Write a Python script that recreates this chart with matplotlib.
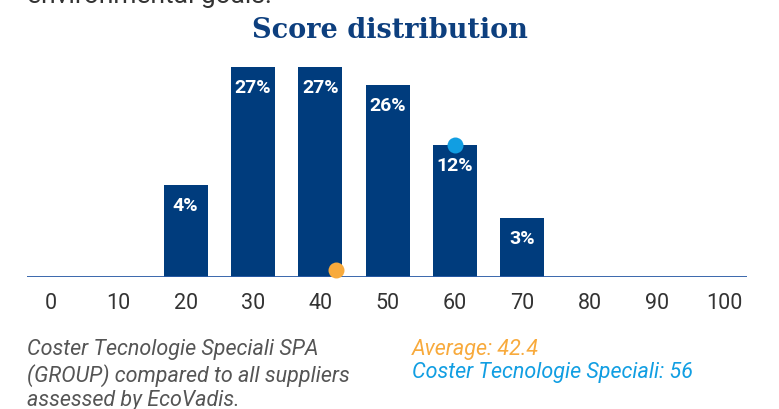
import matplotlib
matplotlib.use("Agg")
import matplotlib.pyplot as plt
from matplotlib import transforms

# ---- data ----
bins = [20, 30, 40, 50, 60, 70]
bar_heights = [11.8, 27.0, 27.0, 24.7, 17.0, 7.6]   # visual heights
bar_labels = ["4%", "27%", "27%", "26%", "12%", "3%"]
tick_values = [0, 10, 20, 30, 40, 50, 60, 70, 80, 90, 100]
tick_labels = [str(v) for v in tick_values]
average_score = 42.4
company_score = 56
company_name = "Coster Tecnologie Speciali"

title = "Score distribution"
caption = "Coster Tecnologie Speciali SPA\n(GROUP) compared to all suppliers\nassessed by EcoVadis."
top_text = "environmental goals."

NAVY = "#003c7d"
TITLE_C = "#0d3f7e"
ORANGE = "#f8aa3c"
BLUE = "#119ee2"
GRAY = "#333333"
CAP_GRAY = "#555555"
FONT = ["Roboto", "DejaVu Sans"]

W, H = 779, 410
fig = plt.figure(figsize=(W / 100, H / 100), dpi=100)

ax = fig.add_axes([27 / W, 132 / H, 720 / W, 218 / H])
ax.set_xlim(-3.57, 103.4)
ax.set_ylim(0, 28.02)

ax.bar(bins, bar_heights, width=6.55, color=NAVY, zorder=2)
ax.axhline(0, color="#2b5ca6", lw=1.3, zorder=3)

for x, h, lab in zip(bins, bar_heights, bar_labels):
    ax.annotate(lab, (x, h), xytext=(0, -14.5), textcoords="offset points",
                ha="center", va="center", color="white", fontsize=14,
                fontweight="bold", family=FONT, zorder=4)

# average dot sitting on the baseline
off = transforms.offset_copy(ax.transData, fig=fig, x=0, y=7, units="dots")
ax.plot([average_score], [0], "o", color=ORANGE, ms=11.5, mew=0,
        transform=off, clip_on=False, zorder=5)

# company dot on top of its bin
cbin = int(round(company_score / 10.0) * 10)
ch = bar_heights[bins.index(cbin)]
ax.plot([cbin], [ch], "o", color=BLUE, ms=11.5, mew=0, clip_on=False, zorder=5)

ax.set_xticks(tick_values)
ax.set_xticklabels(tick_labels, fontsize=15.5, color=GRAY, family=FONT)
ax.tick_params(axis="x", length=0, pad=11)
ax.set_yticks([])
for s in ax.spines.values():
    s.set_visible(False)

fig.text(390 / W, 1 - 30 / H, title, ha="center", va="center",
         fontsize=19.5, fontweight="bold", color=TITLE_C, family=["DejaVu Serif"])

fig.text(27 / W, 1 - 3 / H, top_text, ha="left", va="baseline",
         fontsize=19, color=GRAY, family=FONT)

fig.text(27 / W, 1 - 339 / H, caption, ha="left", va="top", fontsize=15.5,
         style="italic", color=CAP_GRAY, family=FONT, linespacing=1.22)

fig.text(412 / W, 1 - 339 / H, f"Average: {average_score}", ha="left", va="top",
         fontsize=15.5, style="italic", color=ORANGE, family=FONT)
fig.text(412 / W, 1 - 362 / H, f"{company_name}: {company_score}", ha="left", va="top",
         fontsize=15.5, style="italic", color=BLUE, family=FONT)

fig.savefig("out.png", dpi=100)
